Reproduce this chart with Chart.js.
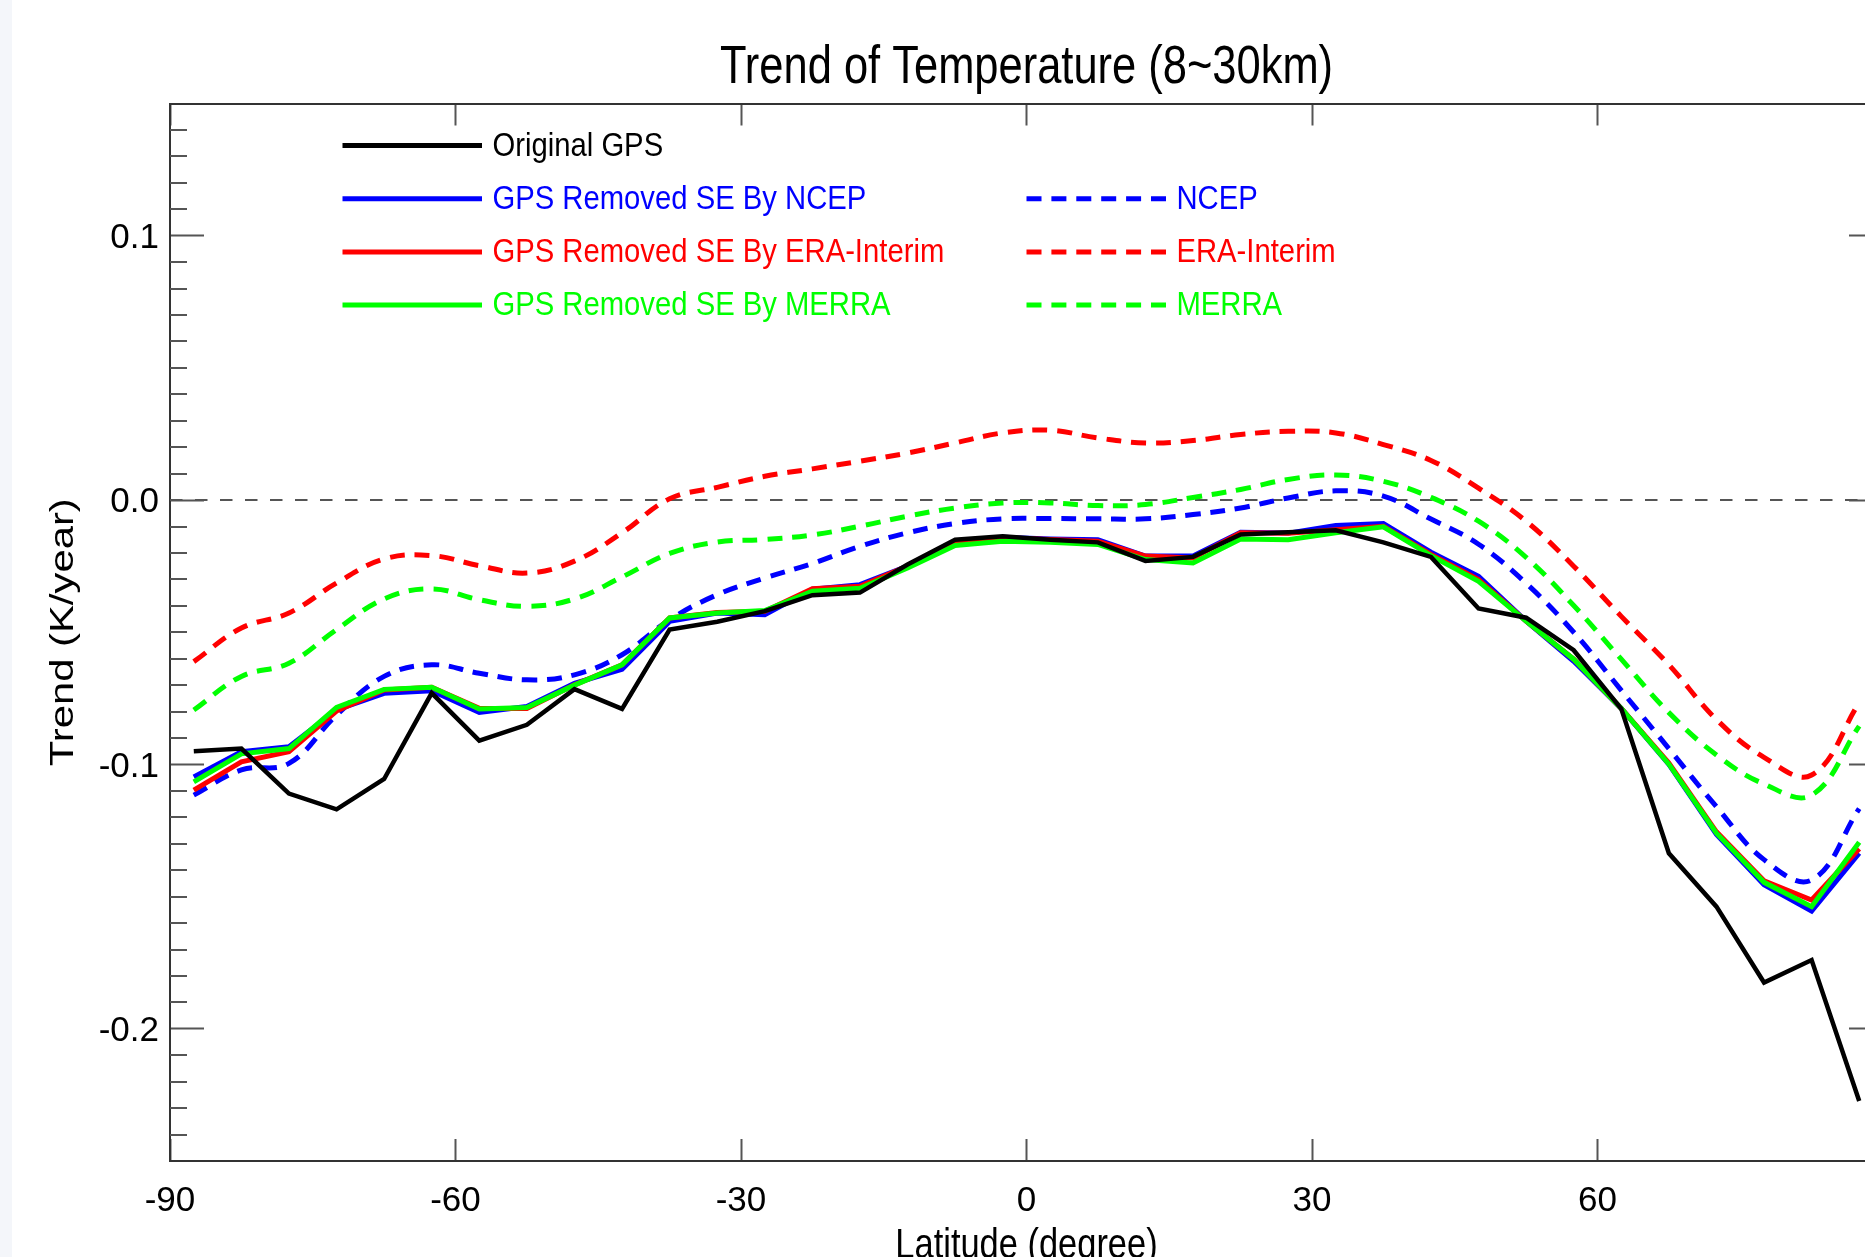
<!DOCTYPE html>
<html>
<head>
<meta charset="utf-8">
<script src="https://cdn.jsdelivr.net/npm/chart.js@4.4.1/dist/chart.umd.min.js"></script>
<style>
  html, body { margin: 0; padding: 0; background: #ffffff; width: 1865px; height: 1257px; overflow: hidden; position: relative; }
  #strip { position: absolute; left: 0; top: 0; width: 12px; height: 1257px; background: #f4f6fa; z-index: 2; }
  #c { position: absolute; left: 0; top: 0; display: block; }
</style>
</head>
<body>
<div id="strip"></div>
<canvas id="c" width="2053" height="1290"></canvas>
<script>
// ---------------- data ----------------
const latitudes = [-87.5, -82.5, -77.5, -72.5, -67.5, -62.5, -57.5, -52.5, -47.5, -42.5,
                   -37.5, -32.5, -27.5, -22.5, -17.5, -12.5, -7.5, -2.5, 2.5, 7.5,
                   12.5, 17.5, 22.5, 27.5, 32.5, 37.5, 42.5, 47.5, 52.5, 57.5,
                   62.5, 67.5, 72.5, 77.5, 82.5, 87.5];

const originalGPS = [-0.095, -0.094, -0.111, -0.117, -0.1055, -0.073, -0.091, -0.085, -0.0715, -0.079,
                     -0.049, -0.046, -0.042, -0.036, -0.035, -0.0244, -0.015, -0.0137, -0.015, -0.016,
                     -0.023, -0.0215, -0.013, -0.0122, -0.0114, -0.016, -0.0215, -0.041, -0.0445, -0.0568,
                     -0.079, -0.1336, -0.1538, -0.1825, -0.174, -0.2273];

const removedByNCEP = [-0.1047, -0.0952, -0.0933, -0.0794, -0.0731, -0.0721, -0.0803, -0.0781, -0.0693, -0.064,
                       -0.0459, -0.0427, -0.0434, -0.0337, -0.032, -0.025, -0.0156, -0.0141, -0.0147, -0.015,
                       -0.0212, -0.0212, -0.0122, -0.0125, -0.0096, -0.0089, -0.0197, -0.0288, -0.0458, -0.061,
                       -0.0788, -0.1, -0.1265, -0.1455, -0.1555, -0.1336];

const removedByERA = [-0.1097, -0.099, -0.0952, -0.0798, -0.0718, -0.0708, -0.0788, -0.0788, -0.0699, -0.0623,
                      -0.0446, -0.0425, -0.0421, -0.0335, -0.0326, -0.025, -0.0156, -0.0143, -0.0149, -0.0156,
                      -0.0212, -0.0219, -0.0124, -0.0126, -0.0112, -0.0099, -0.0206, -0.0301, -0.0458, -0.0602,
                      -0.0788, -0.0995, -0.1255, -0.144, -0.1513, -0.1319];

const removedByMERRA = [-0.1066, -0.096, -0.094, -0.0784, -0.0716, -0.0708, -0.079, -0.0785, -0.07, -0.0623,
                        -0.0446, -0.0427, -0.0418, -0.0345, -0.0334, -0.0257, -0.0172, -0.0156, -0.016, -0.0168,
                        -0.0225, -0.0238, -0.0147, -0.015, -0.0124, -0.0101, -0.021, -0.0307, -0.0458, -0.0602,
                        -0.0788, -0.0999, -0.126, -0.1446, -0.1538, -0.1294];

const ncep = [-0.1116, -0.1021, -0.0996, -0.0813, -0.0667, -0.0623, -0.0655, -0.068, -0.0661, -0.0585,
              -0.0453, -0.0358, -0.0295, -0.024, -0.0175, -0.0124, -0.0089, -0.0071, -0.007, -0.0071,
              -0.0071, -0.0055, -0.003, 0.0008, 0.0035, 0.0015, -0.0072, -0.0167, -0.0315, -0.05,
              -0.072, -0.094, -0.116, -0.136, -0.1437, -0.1167];

const eraInterim = [-0.0611, -0.0484, -0.0427, -0.0314, -0.0223, -0.021, -0.0248, -0.0276, -0.0231, -0.0124,
                    0.0005, 0.0048, 0.009, 0.0118, 0.0147, 0.0178, 0.0216, 0.0254, 0.0264, 0.0235,
                    0.0216, 0.0225, 0.0248, 0.026, 0.0254, 0.021, 0.015, 0.0045, -0.008, -0.025,
                    -0.044, -0.0623, -0.083, -0.0973, -0.104, -0.0767];

const merra = [-0.0794, -0.0667, -0.0617, -0.049, -0.0374, -0.0336, -0.0377, -0.0402, -0.0374, -0.0291,
               -0.0202, -0.0159, -0.0149, -0.0132, -0.0099, -0.0061, -0.003, -0.0011, -0.0011, -0.0021,
               -0.0017, 0.001, 0.004, 0.0078, 0.0095, 0.0071, 0.001, -0.008, -0.0217, -0.0399,
               -0.0602, -0.0804, -0.0964, -0.1074, -0.1116, -0.0855];

const seriesLabels = ['Original GPS', 'GPS Removed SE By NCEP', 'GPS Removed SE By ERA-Interim',
                      'GPS Removed SE By MERRA', 'NCEP', 'ERA-Interim', 'MERRA'];

const xTickValues = [-90, -60, -30, 0, 30, 60, 90];
const yTickValues = [-0.2, -0.1, 0.0, 0.1];
const chartTitle = 'Trend of Temperature (8~30km)';
const xAxisTitle = 'Latitude (degree)';
const yAxisTitle = 'Trend (K/year)';
const xRange = [-90, 90];
const yRange = [-0.25, 0.15];

// ---------------- fonts ----------------
const SANS = "'Liberation Sans', Arial, sans-serif";
const titleFont = {family: SANS, size: 53, weight: 'normal', lineHeight: 62.4 / 53};
const xTitleFont = {family: SANS, size: 42, weight: 'normal', lineHeight: 1.2};
const yTitleFont = {family: SANS, size: 34, weight: 'normal', lineHeight: 1.2};
const tickFont = {family: SANS, size: 35, weight: 'normal', lineHeight: 1.2};
const legendFontSize = 34;

// ---------------- datasets ----------------
function pts(arr) { return latitudes.map((lat, i) => ({x: lat, y: arr[i]})); }
const DASH = [15, 9.9];
const datasets = [
  {label: seriesLabels[0], data: pts(originalGPS),    borderColor: '#000000', borderWidth: 4.5, tension: 0},
  {label: seriesLabels[3], data: pts(removedByMERRA), borderColor: '#00ff00', borderWidth: 5, tension: 0},
  {label: seriesLabels[2], data: pts(removedByERA),   borderColor: '#ff0000', borderWidth: 5, tension: 0},
  {label: seriesLabels[1], data: pts(removedByNCEP),  borderColor: '#0000ff', borderWidth: 5, tension: 0},
  {label: seriesLabels[6], data: pts(merra),          borderColor: '#00ff00', borderWidth: 5, borderDash: DASH, tension: 0.4},
  {label: seriesLabels[5], data: pts(eraInterim),     borderColor: '#ff0000', borderWidth: 5, borderDash: DASH, tension: 0.4},
  {label: seriesLabels[4], data: pts(ncep),           borderColor: '#0000ff', borderWidth: 5, borderDash: DASH, tension: 0.4}
];
datasets.forEach(d => { d.pointRadius = 0; d.pointHoverRadius = 0; d.fill = false; d.xAxisID = 'x'; d.yAxisID = 'y'; d.backgroundColor = d.borderColor; });

// legend slots: [dataset index, column, row]
const legendSlots = [[0, 0, 0], [3, 0, 1], [2, 0, 2], [1, 0, 3], [6, 1, 1], [5, 1, 2], [4, 1, 3]];

// ---------------- text aspect (the reference's lettering is condensed) ----------------
function reshape(obj, method, sx, sy, centerFn) {
  if (!obj || !obj[method] || obj[method]._reshaped) return;
  const orig = obj[method];
  const f = function (...args) {
    const ctx = this.ctx;
    const [cx, cy] = centerFn(this);
    ctx.save();
    ctx.translate(cx, cy); ctx.scale(sx, sy); ctx.translate(-cx, -cy);
    const r = orig.apply(this, args);
    ctx.restore();
    return r;
  };
  f._reshaped = true;
  obj[method] = f;
}
const textShape = {
  id: 'textShape',
  beforeDraw(chart) {
    reshape(chart.titleBlock, 'draw', 0.82, 1, b => [(b.left + b.right) / 2, 0]);
    reshape(chart.scales.x, 'drawTitle', 0.82, 1, s => [(s.left + s.right) / 2, 0]);
    reshape(chart.scales.y, 'drawTitle', 1, 1.23, s => [0, (s.top + s.bottom) / 2]);
  }
};

// ---------------- decorations plugin ----------------
const decorations = {
  id: 'decorations',
  beforeDatasetsDraw(chart) {
    const {ctx, chartArea: a, scales: {y}} = chart;
    ctx.save();
    // zero reference line
    const y0 = y.getPixelForValue(0);
    ctx.strokeStyle = '#555555';
    ctx.lineWidth = 2;
    ctx.setLineDash([12.5, 12.5]);
    ctx.beginPath(); ctx.moveTo(a.left, y0); ctx.lineTo(a.right, y0); ctx.stroke();
    ctx.setLineDash([]);
    // minor ticks every 0.01 on left and right axes
    ctx.strokeStyle = '#555555';
    ctx.lineWidth = 2;
    const kmin = Math.round(yRange[0] * 100), kmax = Math.round(yRange[1] * 100);
    ctx.beginPath();
    for (let k = kmin + 1; k < kmax; k++) {
      if (k % 10 === 0) continue;
      const py = Math.round(y.getPixelForValue(k / 100));
      ctx.moveTo(a.left, py); ctx.lineTo(a.left + 17, py);
      ctx.moveTo(a.right, py); ctx.lineTo(a.right - 17, py);
    }
    ctx.stroke();
    ctx.restore();
  },
  afterDatasetsDraw(chart) {
    const {ctx, chartArea: a} = chart;
    const ds = chart.data.datasets;
    const colX = [a.left + 172.5, a.left + 856.5];
    const lineLen = 139.5, gap = 10.5;
    ctx.save();
    ctx.font = legendFontSize + 'px ' + SANS;
    ctx.textBaseline = 'middle';
    ctx.textAlign = 'left';
    legendSlots.forEach(([di, col, row]) => {
      const d = ds[di];
      const yy = a.top + 42 + row * 53.2;
      const x0 = colX[col];
      ctx.strokeStyle = d.borderColor;
      ctx.lineWidth = 5;
      ctx.setLineDash(d.borderDash || []);
      ctx.beginPath(); ctx.moveTo(x0, yy); ctx.lineTo(x0 + lineLen, yy); ctx.stroke();
      ctx.setLineDash([]);
      ctx.fillStyle = d.borderColor;
      ctx.save();
      ctx.translate(x0 + lineLen + gap, yy + 1);
      ctx.scale(0.86, 1);
      ctx.fillText(d.label, 0, 0);
      ctx.restore();
    });
    ctx.restore();
  }
};

const setXTicks = s => { s.ticks = xTickValues.map(v => ({value: v})); };
const setYTicks = s => { s.ticks = yTickValues.map(v => ({value: v})); };

const gridCommon = {drawOnChartArea: false, drawTicks: true, tickColor: '#555555', tickWidth: 2};
const borderCommon = {display: true, color: '#333333', width: 2};

new Chart(document.getElementById('c'), {
  type: 'line',
  data: {datasets},
  plugins: [textShape, decorations],
  options: {
    responsive: false,
    animation: false,
    devicePixelRatio: 1,
    layout: {padding: 0},
    plugins: {
      legend: {display: false},
      tooltip: {enabled: false},
      title: {display: true, text: chartTitle, color: '#000000', font: titleFont, padding: {top: 37.5, bottom: 3.6}}
    },
    scales: {
      x: {
        type: 'linear', position: 'bottom', min: xRange[0], max: xRange[1],
        afterBuildTicks: setXTicks,
        ticks: {padding: 41.8, maxRotation: 0, autoSkip: false, color: '#000000', font: tickFont,
                callback: v => String(v)},
        grid: Object.assign({tickLength: -22}, gridCommon),
        border: borderCommon,
        title: {display: true, text: xAxisTitle, color: '#000000', font: xTitleFont, padding: {top: 0, bottom: 18.8}},
        afterFit: s => { s.height = 129; }
      },
      x2: {
        type: 'linear', position: 'top', min: xRange[0], max: xRange[1],
        afterBuildTicks: setXTicks,
        ticks: {display: false},
        grid: Object.assign({tickLength: -22}, gridCommon),
        border: borderCommon,
        afterFit: s => { s.height = 0; }
      },
      y: {
        type: 'linear', position: 'left', min: yRange[0], max: yRange[1],
        afterBuildTicks: setYTicks,
        ticks: {padding: 45, labelOffset: 2.5, color: '#000000', font: tickFont,
                callback: v => (Math.abs(v) < 1e-9 ? 0 : v).toFixed(1)},
        grid: Object.assign({tickLength: -34}, gridCommon),
        border: borderCommon,
        title: {display: true, text: yAxisTitle, color: '#000000', font: yTitleFont, padding: {top: 43.6, bottom: 0}},
        afterFit: s => { s.width = 170; }
      },
      y2: {
        type: 'linear', position: 'right', min: yRange[0], max: yRange[1],
        afterBuildTicks: setYTicks,
        ticks: {display: false},
        grid: Object.assign({tickLength: -34}, gridCommon),
        border: borderCommon,
        afterFit: s => { s.width = 170; }
      }
    }
  }
});
</script>
</body>
</html>
